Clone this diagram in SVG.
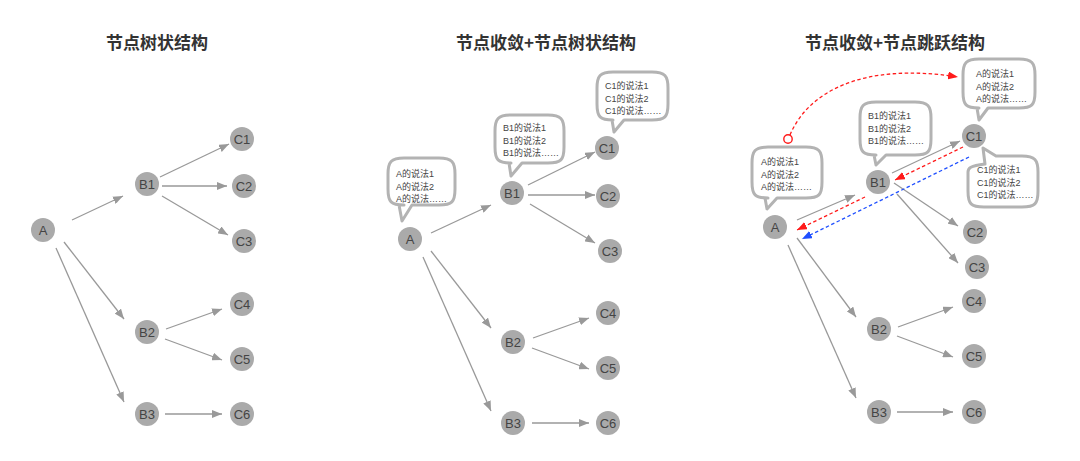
<svg xmlns="http://www.w3.org/2000/svg" width="1080" height="461" viewBox="0 0 1080 461">
<style>
.title{font-family:"Noto Sans CJK SC","Liberation Sans",sans-serif;font-size:17px;font-weight:bold;fill:#333;text-anchor:middle}
.node circle{fill:#aaaaaa}
.node text{font-family:"Liberation Sans",Arial,sans-serif;font-size:13px;fill:#444;text-anchor:middle;dominant-baseline:central}
.edge{stroke:#999;stroke-width:1.3;fill:none;marker-end:url(#ag)}
.red{stroke:#ff1a1a;stroke-width:1.3;fill:none;stroke-dasharray:3.5 2.5;marker-end:url(#ar)}
.blue{stroke:#1f4fff;stroke-width:1.3;fill:none;stroke-dasharray:3.5 2.5;marker-end:url(#ab)}
.bubble path{fill:#fff;stroke:#b3b3b3;stroke-width:3;stroke-linejoin:round}
.bubble text{font-family:"Liberation Sans","Noto Sans CJK SC",sans-serif;font-size:9px;fill:#444}
</style>
<defs>
<marker id="ag" viewBox="0 0 10 8" refX="10" refY="4" markerWidth="10" markerHeight="8" markerUnits="userSpaceOnUse" orient="auto"><path d="M0,0 L10,4 L0,8 z" fill="#999"/></marker>
<marker id="ar" viewBox="0 0 10 8" refX="10" refY="4" markerWidth="10" markerHeight="8" markerUnits="userSpaceOnUse" orient="auto"><path d="M0,0 L10,4 L0,8 z" fill="#ff1a1a"/></marker>
<marker id="ab" viewBox="0 0 10 8" refX="10" refY="4" markerWidth="10" markerHeight="8" markerUnits="userSpaceOnUse" orient="auto"><path d="M0,0 L10,4 L0,8 z" fill="#1f4fff"/></marker>
</defs>
<rect width="1080" height="461" fill="#fff"/>

<text class="title" x="157" y="49">节点树状结构</text>
<text class="title" x="546" y="49">节点收敛+节点树状结构</text>
<text class="title" x="895" y="49">节点收敛+节点跳跃结构</text>

<g id="connectors">
<!-- panel 1 -->
<line class="edge" x1="72" y1="220" x2="123" y2="196"/>
<line class="edge" x1="160" y1="177" x2="229" y2="144"/>
<line class="edge" x1="162" y1="186" x2="227" y2="186"/>
<line class="edge" x1="162" y1="196" x2="228" y2="235"/>
<line class="edge" x1="64" y1="242" x2="124" y2="319"/>
<line class="edge" x1="56" y1="248" x2="124" y2="402"/>
<line class="edge" x1="166" y1="329" x2="222" y2="309"/>
<line class="edge" x1="165" y1="339" x2="222" y2="360"/>
<line class="edge" x1="165" y1="414" x2="222" y2="414"/>
<!-- panel 2 -->
<line class="edge" x1="431" y1="233" x2="491" y2="205"/>
<line class="edge" x1="528" y1="185" x2="595" y2="152"/>
<line class="edge" x1="528" y1="195" x2="595" y2="195"/>
<line class="edge" x1="530" y1="204" x2="595" y2="243"/>
<line class="edge" x1="431" y1="251" x2="491" y2="328"/>
<line class="edge" x1="423" y1="257" x2="491" y2="411"/>
<line class="edge" x1="533" y1="338" x2="589" y2="318"/>
<line class="edge" x1="532" y1="348" x2="589" y2="369"/>
<line class="edge" x1="532" y1="423" x2="589" y2="423"/>
<!-- panel 3 -->
<line class="edge" x1="797" y1="220" x2="855" y2="195"/>
<line class="edge" x1="892" y1="173" x2="960" y2="141"/>
<line class="edge" x1="894" y1="183" x2="958" y2="226"/>
<line class="edge" x1="897" y1="194" x2="958" y2="263"/>
<line class="edge" x1="797" y1="238" x2="856" y2="317"/>
<line class="edge" x1="788" y1="245" x2="856" y2="398"/>
<line class="edge" x1="898" y1="327" x2="953" y2="307"/>
<line class="edge" x1="897" y1="336" x2="953" y2="357"/>
<line class="edge" x1="897" y1="412" x2="953" y2="412"/>
<line class="red" x1="963" y1="147" x2="895" y2="180"/>
<line class="red" x1="865" y1="197" x2="797" y2="230"/>
<line class="blue" x1="969" y1="157" x2="802" y2="239"/>
<path class="red" d="M790,135 C808,92 862,62 958,77"/>
<circle cx="788" cy="139" r="4.2" fill="#fff" stroke="#ff1a1a" stroke-width="1.4"/>
</g>

<!-- panel 1 nodes -->
<g id="p1-A" class="node"><circle cx="43" cy="230" r="12"/><text x="43" y="230">A</text></g>
<g id="p1-B1" class="node"><circle cx="147" cy="184" r="12"/><text x="147" y="184">B1</text></g>
<g id="p1-B2" class="node"><circle cx="147" cy="332" r="12"/><text x="147" y="332">B2</text></g>
<g id="p1-B3" class="node"><circle cx="147" cy="414" r="12"/><text x="147" y="414">B3</text></g>
<g id="p1-C1" class="node"><circle cx="242" cy="139" r="12"/><text x="242" y="139">C1</text></g>
<g id="p1-C2" class="node"><circle cx="244" cy="186" r="12"/><text x="244" y="186">C2</text></g>
<g id="p1-C3" class="node"><circle cx="244" cy="241" r="12"/><text x="244" y="241">C3</text></g>
<g id="p1-C4" class="node"><circle cx="242" cy="304" r="12"/><text x="242" y="304">C4</text></g>
<g id="p1-C5" class="node"><circle cx="242" cy="359" r="12"/><text x="242" y="359">C5</text></g>
<g id="p1-C6" class="node"><circle cx="242" cy="414" r="12"/><text x="242" y="414">C6</text></g>

<!-- panel 2 nodes -->
<g id="p2-A" class="node"><circle cx="410" cy="239" r="12"/><text x="410" y="239">A</text></g>
<g id="p2-B1" class="node"><circle cx="512" cy="193" r="12"/><text x="512" y="193">B1</text></g>
<g id="p2-B2" class="node"><circle cx="513" cy="342" r="12"/><text x="513" y="342">B2</text></g>
<g id="p2-B3" class="node"><circle cx="513" cy="423" r="12"/><text x="513" y="423">B3</text></g>
<g id="p2-C1" class="node"><circle cx="607" cy="148" r="12"/><text x="607" y="148">C1</text></g>
<g id="p2-C2" class="node"><circle cx="608" cy="196" r="12"/><text x="608" y="196">C2</text></g>
<g id="p2-C3" class="node"><circle cx="610" cy="251" r="12"/><text x="610" y="251">C3</text></g>
<g id="p2-C4" class="node"><circle cx="608" cy="313" r="12"/><text x="608" y="313">C4</text></g>
<g id="p2-C5" class="node"><circle cx="608" cy="368" r="12"/><text x="608" y="368">C5</text></g>
<g id="p2-C6" class="node"><circle cx="608" cy="423" r="12"/><text x="608" y="423">C6</text></g>

<!-- panel 2 bubbles -->
<g id="p2-bubble-A" class="bubble">
<path d="M404,158 L439,158 C452,158 455,162 455,174 L455,189 C455,202 452,205 439,205 L412,205 L402,221 L399,205 L404,205 C391,205 388,202 388,189 L388,174 C388,162 391,158 404,158 Z"/>
<text x="396" y="177">A的说法1</text><text x="396" y="189.5">A的说法2</text><text x="396" y="202">A的说法……</text>
</g>
<g id="p2-bubble-B1" class="bubble">
<path d="M511,115 L548,115 C561,115 564,119 564,131 L564,147 C564,160 561,163 548,163 L522,163 L511,176 L509,163 L511,163 C498,163 495,160 495,147 L495,131 C495,119 498,115 511,115 Z"/>
<text x="503" y="131">B1的说法1</text><text x="503" y="143.5">B1的说法2</text><text x="503" y="156">B1的说法……</text>
</g>
<g id="p2-bubble-C1" class="bubble">
<path d="M613,72 L652,72 C665,72 668,76 668,88 L668,104 C668,117 665,120 652,120 L624,120 L614,132 L612,120 L613,120 C600,120 597,117 597,104 L597,88 C597,76 600,72 613,72 Z"/>
<text x="605" y="89">C1的说法1</text><text x="605" y="101.5">C1的说法2</text><text x="605" y="114">C1的说法……</text>
</g>

<!-- panel 3 nodes -->
<g id="p3-A" class="node"><circle cx="775" cy="227" r="12"/><text x="775" y="227">A</text></g>
<g id="p3-B1" class="node"><circle cx="878" cy="182" r="12"/><text x="878" y="182">B1</text></g>
<g id="p3-B2" class="node"><circle cx="879" cy="329" r="12"/><text x="879" y="329">B2</text></g>
<g id="p3-B3" class="node"><circle cx="879" cy="412" r="12"/><text x="879" y="412">B3</text></g>
<g id="p3-C1" class="node"><circle cx="974" cy="136" r="12"/><text x="974" y="136">C1</text></g>
<g id="p3-C2" class="node"><circle cx="975" cy="232" r="12"/><text x="975" y="232">C2</text></g>
<g id="p3-C3" class="node"><circle cx="977" cy="267" r="12"/><text x="977" y="267">C3</text></g>
<g id="p3-C4" class="node"><circle cx="974" cy="301" r="12"/><text x="974" y="301">C4</text></g>
<g id="p3-C5" class="node"><circle cx="974" cy="356" r="12"/><text x="974" y="356">C5</text></g>
<g id="p3-C6" class="node"><circle cx="974" cy="412" r="12"/><text x="974" y="412">C6</text></g>

<!-- panel 3 bubbles -->
<g id="p3-bubble-A" class="bubble">
<path d="M768,147 L806,147 C819,147 822,151 822,163 L822,182 C822,195 819,198 806,198 L777,198 L767,209 L765,198 L768,198 C755,198 752,195 752,182 L752,163 C752,151 755,147 768,147 Z"/>
<text x="761" y="165">A的说法1</text><text x="761" y="177.5">A的说法2</text><text x="761" y="190">A的说法……</text>
</g>
<g id="p3-bubble-B1" class="bubble">
<path d="M876,102 L915,102 C928,102 931,106 931,118 L931,139 C931,152 928,155 915,155 L886,155 L876,165 L874,155 L876,155 C863,155 860,152 860,139 L860,118 C860,106 863,102 876,102 Z"/>
<text x="868" y="119">B1的说法1</text><text x="868" y="131.5">B1的说法2</text><text x="868" y="144">B1的说法……</text>
</g>
<g id="p3-bubble-A-top" class="bubble">
<path d="M979,59 L1019,59 C1032,59 1035,63 1035,75 L1035,92 C1035,105 1032,108 1019,108 L988,108 L979,120 L977,108 L979,108 C966,108 963,105 963,92 L963,75 C963,63 966,59 979,59 Z"/>
<text x="976" y="77">A的说法1</text><text x="976" y="89.5">A的说法2</text><text x="976" y="102">A的说法……</text>
</g>
<g id="p3-bubble-C1" class="bubble">
<path d="M996,156 L1022,156 C1035,156 1038,160 1038,172 L1038,191 C1038,204 1035,207 1022,207 L984,207 C971,207 968,204 968,191 L968,172 C968,168 970,166 985,164 L983,148 Z"/>
<text x="977" y="173">C1的说法1</text><text x="977" y="185.5">C1的说法2</text><text x="977" y="198">C1的说法……</text>
</g>
</svg>
